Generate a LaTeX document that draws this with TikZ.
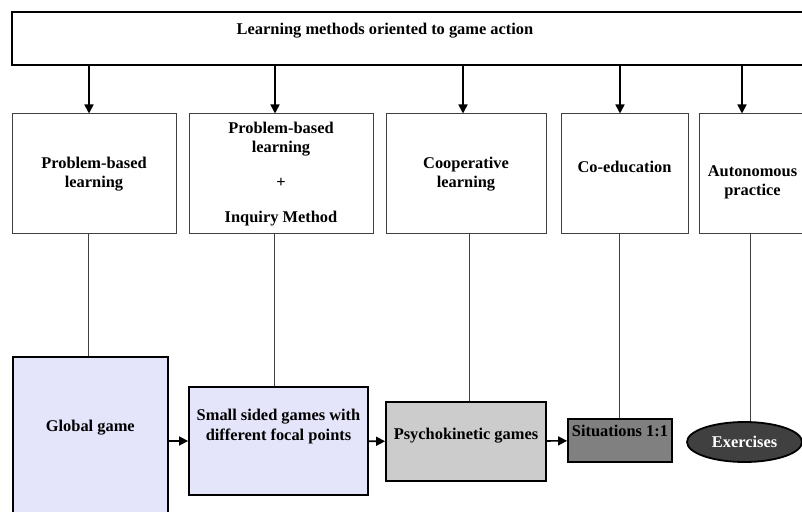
\documentclass[tikz,border=0pt]{standalone}
\usepackage{fontspec}
\setmainfont{Liberation Serif}
\usetikzlibrary{arrows.meta,shapes.geometric}
\definecolor{lavender}{RGB}{228,228,250}
\definecolor{psygray}{RGB}{204,204,204}
\definecolor{sitgray}{RGB}{128,128,128}
\definecolor{exegray}{RGB}{64,64,64}
\newcommand{\lift}[2]{\raisebox{#1}[\height][\depth]{\begin{tabular}{@{}c@{}}#2\end{tabular}}}

\begin{document}
\begin{tikzpicture}[x=0.5pt,y=-0.5pt,
		font=\fontsize{8.2}{9.7}\selectfont\bfseries,
		method/.style={draw=black!75, line width=0.5pt, minimum height=60pt, align=center, inner sep=0pt},
		game/.style={draw, line width=0.9pt, align=center, inner sep=0pt},
		arr/.style={-{Triangle[length=4.5pt,width=4.5pt]}, line width=0.8pt},
		link/.style={draw=black!75, line width=0.5pt}]
		\useasboundingbox (0,0) rectangle (802,512);
		\node[draw, line width=0.7pt, minimum width=409pt, minimum height=26.5pt] (top) at (421,38.5) {};
		\node (title) at (385,31) {Learning methods oriented to game action};
		\node[method, minimum width=82pt] (pbl) at (94,174) {Problem-based\\learning};
		\node[method, minimum width=92pt] (pbi) at (281,174) {Problem-based\\learning\\[7.75pt]+\\[7.75pt]Inquiry Method};
		\node[method, minimum width=80pt] (coop) at (466,174) {Cooperative\\learning};
		\node[method, minimum width=63.5pt] (coed) at (624.5,174) {\lift{2.5pt}{Co-education}};
		\node[method, minimum width=53.5pt] (auto) at (752.5,174) {\lift{-4pt}{Autonomous\\practice}};
		\node[game, fill=lavender, minimum width=77.7pt, minimum height=84pt] (global) at (90.3,441) {\lift{6.5pt}{Global game}};
		\node[game, fill=lavender, minimum width=89.5pt, minimum height=54pt] (ssg) at (278.5,441) {\lift{7.25pt}{Small sided games with\\different focal points}};
		\node[game, fill=psygray, minimum width=80pt, minimum height=39.5pt] (psy) at (466,441.5) {\lift{2.75pt}{Psychokinetic games}};
		\node[game, fill=sitgray, minimum width=52pt, minimum height=21.5pt] (sit) at (620,440.5) {\lift{3.75pt}{Situations 1:1}};
		\node[game, ellipse, fill=exegray, text=white, minimum width=57.5pt, minimum height=20pt] (exe) at (744.5,442) {Exercises};
		\foreach \m/\dx in {pbl/-2.5pt, pbi/-3pt, coop/-1.5pt, coed/-2.25pt, auto/-5.25pt}
			\draw[arr] ([xshift=\dx]top.south -| \m.north) -- ([xshift=\dx]\m.north);
		\foreach \m/\g/\dx in {pbl/global/-2.65pt, pbi/ssg/-3.5pt, coop/psy/1.5pt, coed/sit/-2.75pt, auto/exe/-1.25pt}
			\draw[link] ([xshift=\dx]\m.south) -- ([xshift=\dx]\m.south |- \g.north);
		\draw[arr] (global) -- (ssg);
		\draw[arr] (ssg) -- (psy);
		\draw[arr] (psy) -- (sit);
\end{tikzpicture}
\end{document}
